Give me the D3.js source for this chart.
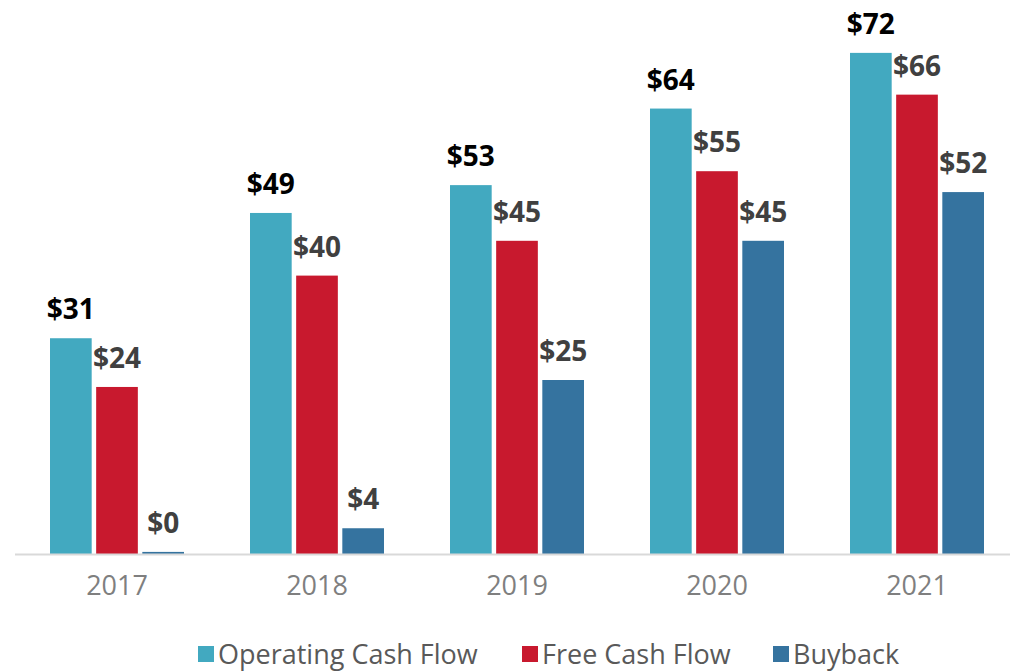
<!DOCTYPE html>
<html>
<head>
<meta charset="utf-8">
<script src="https://cdn.jsdelivr.net/npm/d3@7"></script>
<style>
  body { margin: 0; background: #fff; }
  svg { display: block; font-family: "Open Sans", "Noto Sans", sans-serif; }
</style>
</head>
<body>
<script>
// data
var years = ["2017", "2018", "2019", "2020", "2021"];
var seriesNames = ["Operating Cash Flow", "Free Cash Flow", "Buyback"];
var operatingCashFlow = [31, 49, 53, 64, 72];
var freeCashFlow = [24, 40, 45, 55, 66];
var buyback = [0.3, 3.7, 25, 45, 52];
var seriesColors = ["#42a9c0", "#c8192e", "#35739f"];
var labelColors = ["#000000", "#404040", "#404040"];

var width = 1014, height = 672;
var baseY = 554;

var data = years.map(function (yr, i) {
  return {
    year: yr,
    values: [operatingCashFlow[i], freeCashFlow[i], buyback[i]]
  };
});

var svg = d3.select("body").append("svg")
  .attr("width", width)
  .attr("height", height);

var x0 = d3.scaleBand()
  .domain(years)
  .range([17, 1017])
  .padding(0);

var x1 = d3.scaleBand()
  .domain(d3.range(seriesNames.length))
  .range([33, 167])
  .paddingInner(0.097)
  .paddingOuter(0);

var y = d3.scaleLinear()
  .domain([0, 80])
  .range([baseY, baseY - 80 * 6.96]);

// bars
var groups = svg.append("g")
  .selectAll("g")
  .data(data)
  .enter()
  .append("g")
  .attr("transform", function (d) { return "translate(" + x0(d.year) + ",0)"; });

groups.selectAll("rect")
  .data(function (d) { return d.values; })
  .enter()
  .append("rect")
  .attr("x", function (d, i) { return x1(i); })
  .attr("width", x1.bandwidth())
  .attr("y", function (d) { return y(d); })
  .attr("height", function (d) { return baseY - y(d); })
  .style("fill", function (d, i) { return seriesColors[i]; });

// value labels
groups.selectAll("text")
  .data(function (d) { return d.values; })
  .enter()
  .append("text")
  .attr("x", function (d, i) { return x1(i) + x1.bandwidth() / 2; })
  .attr("y", function (d) { return y(d) - 19; })
  .attr("text-anchor", "middle")
  .style("font-size", "28px")
  .style("font-weight", "bold")
  .style("fill", function (d, i) { return labelColors[i]; })
  .text(function (d) { return "$" + Math.round(d); });

// x axis
var xAxis = svg.append("g")
  .attr("transform", "translate(0," + baseY + ")")
  .call(d3.axisBottom(x0).tickSize(0).tickPadding(22));
xAxis.select(".domain")
  .attr("d", "M15,0.5H1010")
  .style("stroke", "#d9d9d9")
  .style("stroke-width", 2);
xAxis.selectAll("text")
  .style("font-size", "27px")
  .style("font-family", "\"Open Sans\", sans-serif")
  .style("fill", "#7f7f7f");

// legend
var legend = svg.append("g");
var legendX = [198, 522, 773];
seriesNames.forEach(function (name, i) {
  legend.append("rect")
    .attr("x", legendX[i])
    .attr("y", 646)
    .attr("width", 16)
    .attr("height", 16)
    .style("fill", seriesColors[i]);
  legend.append("text")
    .attr("x", legendX[i] + 20)
    .attr("y", 664)
    .style("font-size", "27px")
    .style("fill", "#595959")
    .text(name);
});
</script>
</body>
</html>
